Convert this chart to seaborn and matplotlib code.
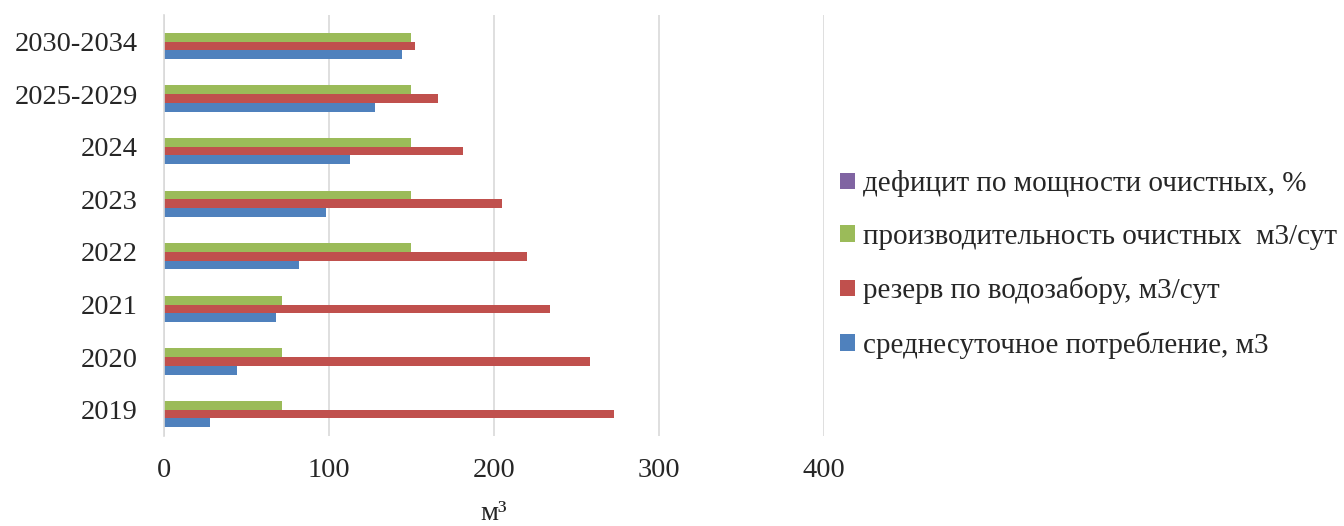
import matplotlib
matplotlib.use("Agg")
import matplotlib.pyplot as plt
import seaborn as sns
import pandas as pd
from matplotlib.patches import Patch

categories = ["2030-2034", "2025-2029", "2024", "2023", "2022", "2021", "2020", "2019"]
deficit = [0, 0, 0, 0, 0, 0, 0, 0]
capacity = [150, 150, 150, 150, 150, 71.5, 71.5, 71.5]
reserve = [152, 166, 181, 205, 220, 234, 258, 273]
consumption = [144, 128, 113, 98, 82, 68, 44, 28]

series_names = [
    "дефицит по мощности очистных, %",
    "производительность очистных  м3/сут",
    "резерв по водозабору, м3/сут",
    "среднесуточное потребление, м3",
]
series_values = [deficit, capacity, reserve, consumption]
colors = ["#8064A2", "#9BBB59", "#C0504D", "#4F81BD"]

rows = []
for name, vals in zip(series_names, series_values):
    for c, v in zip(categories, vals):
        rows.append({"cat": c, "series": name, "value": v})
df = pd.DataFrame(rows)

sns.set_style("white")
plt.rcParams["font.family"] = ["Liberation Serif", "DejaVu Serif"]

fig = plt.figure(figsize=(13.44, 5.26), dpi=100)
ax = fig.add_axes([0.122, 0.171, 0.491, 0.800])

sns.barplot(data=df, y="cat", x="value", hue="series", order=categories,
            hue_order=series_names, palette=colors, orient="h", width=0.66,
            saturation=1, linewidth=0, ax=ax, legend=False)

ax.set_xlim(0, 400)
ax.set_xticks([0, 100, 200, 300, 400])
ax.xaxis.grid(True, color="#D9D9D9", linewidth=1.2)
ax.set_axisbelow(True)
for s in ["top", "right", "bottom"]:
    ax.spines[s].set_visible(False)
ax.spines["left"].set_color("#D9D9D9")
ax.spines["left"].set_linewidth(1.2)
ax.tick_params(axis="y", length=0, pad=19, labelsize=20.5)
ax.tick_params(axis="x", length=0, pad=16, labelsize=20.5)
ax.set_ylabel("")
ax.set_xlabel("м³", fontsize=20.5, labelpad=13)

handles = [Patch(facecolor=c, edgecolor="none") for c in colors]
fig.legend(handles, series_names, loc="center left",
           bbox_to_anchor=(0.625, 0.497), frameon=False, fontsize=21,
           handlelength=0.5, handleheight=0.5, handletextpad=0.3,
           labelspacing=0.92, borderaxespad=0, borderpad=0)

fig.savefig("out.png", dpi=100)
